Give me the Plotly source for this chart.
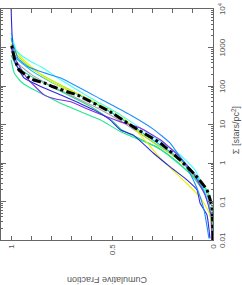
import math
import plotly.graph_objects as go

# ---- data: cumulative fraction (f) vs surface density Sigma [stars/pc^2] ----
f_total = [0.0, 0.005, 0.030, 0.079, 0.163, 0.261, 0.394, 0.507, 0.670, 0.719, 0.788, 0.837, 0.887, 0.916, 0.941, 0.961, 0.975, 0.985, 0.992, 1.0]
s_total = [0.01, 0.072, 0.2, 0.43, 1.2, 3.3, 8.6, 21, 58, 70, 94, 120, 143, 171, 218, 261, 395, 566, 861, 1310]

f_dodger = [0.02, 0.044, 0.079, 0.123, 0.163, 0.212, 0.296, 0.409, 0.557, 0.754, 0.803, 0.916, 0.967, 0.975, 0.99, 1.0]
s_dodger = [0.011, 0.06, 0.22, 0.66, 1.43, 3.3, 7.6, 17.7, 46, 161, 193, 316, 525, 719, 1160, 1780]

f_spring = [0.0, 0.005, 0.03, 0.079, 0.163, 0.276, 0.36, 0.458, 0.557, 0.655, 0.754, 0.803, 0.852, 0.901, 0.951, 0.984, 1.0]
s_spring = [0.01, 0.081, 0.2, 0.36, 0.89, 2.6, 3.95, 6.5, 13.1, 21.4, 35.5, 47.9, 64.6, 87.1, 129, 214, 479]

f_purple = [0.005, 0.01, 0.04, 0.099, 0.163, 0.261, 0.36, 0.458, 0.631, 0.704, 0.778, 0.837, 0.92, 0.985, 1.0]
s_purple = [0.01, 0.045, 0.15, 0.55, 1.43, 4.0, 8.1, 11.7, 26.3, 38.9, 45.7, 58.9, 158, 562, 1000]

f_blue = [0.015, 0.03, 0.064, 0.079, 0.128, 0.212, 0.296, 0.394, 0.458, 0.51, 0.59, 0.66, 0.75, 0.85, 0.936, 0.985, 0.995, 1.0]
s_blue = [0.011, 0.045, 0.091, 0.2, 0.36, 0.79, 1.82, 5.3, 7.2, 13.2, 24, 35.5, 57.5, 95.5, 162, 479, 2000, 10000]

f_yellow = [0.005, 0.015, 0.064, 0.163, 0.26, 0.33, 0.40, 0.458, 0.557, 0.655, 0.754, 0.837, 0.936, 0.98, 1.0]
s_yellow = [0.01, 0.045, 0.13, 0.43, 1.32, 3.55, 8.9, 17.8, 32, 58.3, 95.5, 170, 473, 891, 1585]

f_cyan = [0.005, 0.01, 0.04, 0.089, 0.163, 0.31, 0.458, 0.606, 0.754, 0.852, 0.901, 0.951, 0.975, 1.0]
s_cyan = [0.01, 0.045, 0.2, 0.66, 1.62, 5.4, 17.8, 49, 145, 316, 427, 638, 861, 2400]

f_sky = [0.005, 0.01, 0.03, 0.07, 0.13, 0.2, 0.3, 0.4, 0.5, 0.6, 0.7, 0.8, 0.9, 0.97, 1.0]
s_sky = [0.01, 0.032, 0.126, 0.35, 0.89, 1.78, 4.0, 9.5, 20, 39.8, 70.8, 126, 251, 501, 1000]

f_gray = [0.0, 0.01, 0.03, 0.07, 0.13, 0.2, 0.3, 0.4, 0.5, 0.6, 0.7, 0.8, 0.9, 0.97, 1.0]
s_gray = [0.01, 0.05, 0.16, 0.4, 0.89, 1.66, 3.55, 7.9, 16.6, 31.6, 56, 100, 200, 398, 794]

f_chart = [0.005, 0.01, 0.03, 0.07, 0.13, 0.2, 0.3, 0.4, 0.5, 0.6, 0.7, 0.8, 0.9, 0.97, 1.0]
s_chart = [0.01, 0.04, 0.126, 0.32, 0.79, 1.58, 3.55, 8.9, 20, 39.8, 75.9, 141, 282, 631, 1259]

f_green = [0.0, 0.01, 0.04, 0.1, 0.18, 0.26, 0.36, 0.45, 0.5, 0.6, 0.7, 0.8, 0.9, 0.97, 1.0]
s_green = [0.01, 0.05, 0.16, 0.45, 1.12, 2.24, 4.2, 7.1, 12.6, 28.2, 52.5, 95.5, 178, 316, 631]

series = [
    ("#a8a8a8", f_gray, s_gray),
    ("#30d088", f_green, s_green),
    ("#a8f000", f_chart, s_chart),
    ("#20e890", f_spring, s_spring),
    ("#00c0ff", f_sky, s_sky),
    ("#f0f000", f_yellow, s_yellow),
    ("#40ffff", f_cyan, s_cyan),
    ("#8a2be2", f_purple, s_purple),
    ("#2828e0", f_blue, s_blue),
    ("#1e8cff", f_dodger, s_dodger),
]

x_ticks = [0, 0.5, 1]
x_ticktext = ["0", "0.5", "1"]
y_ticks = [0.01, 0.1, 1, 10, 100, 1000, 10000]
y_ticktext = ["0.01", "0.1", "1", "10", "100", "1000", "10<sup>4</sup>"]

minor_y = []
for d in [0.01, 0.1, 1, 10, 100, 1000]:
    for k in range(2, 10):
        minor_y.append(d * k)

fig = go.Figure()
for color, fx, sy in series:
    fig.add_trace(go.Scatter(x=fx, y=sy, mode="lines",
                             line=dict(color=color, width=1.1, shape="spline", smoothing=0.4),
                             showlegend=False, hoverinfo="skip"))
fig.add_trace(go.Scatter(x=f_total, y=s_total, mode="lines",
                         line=dict(color="black", width=3, dash="dashdot", shape="spline", smoothing=0.4),
                         showlegend=False, hoverinfo="skip"))

axcol = "#666666"
txtcol = "#555555"
annots = []
for v, t in zip(y_ticks, y_ticktext):
    annots.append(dict(text=t, xref="paper", yref="y", x=1.043, y=math.log10(v),
                       xanchor="center", yanchor="middle", textangle=-90, showarrow=False,
                       font=dict(size=8, color=txtcol)))
annots += [
    dict(text="Σ [stars/pc<sup>2</sup>]", xref="paper", yref="paper", x=1.108, y=0.475,
         xanchor="center", yanchor="middle", textangle=-90, showarrow=False,
         font=dict(size=9, color=txtcol)),
    dict(text="Cumulative Fraction", xref="paper", yref="paper", x=0.5, y=-0.173,
         xanchor="center", yanchor="middle", textangle=180, showarrow=False,
         font=dict(size=9, color=txtcol)),
]

fig.update_layout(
    width=242, height=285,
    margin=dict(l=1, r=29, t=9, b=45),
    paper_bgcolor="white", plot_bgcolor="white",
    font=dict(family="Liberation Sans", size=8, color=txtcol),
    hovermode=False,
    xaxis=dict(range=[1.05, 0], tickvals=x_ticks, ticktext=x_ticktext, tickangle=-90,
               ticks="inside", ticklen=4, tickcolor=axcol, showgrid=False, zeroline=False,
               showline=True, linecolor=axcol, linewidth=1, mirror="ticks",
               minor=dict(dtick=0.1, tick0=0, ticks="inside", ticklen=4, tickcolor=axcol, showgrid=False),
               tickfont=dict(size=8, color=txtcol)),
    yaxis=dict(type="log", range=[-2, 4], side="right", tickvals=y_ticks, showticklabels=False,
               ticks="inside", ticklen=5, tickcolor=axcol, showgrid=False,
               zeroline=False, showline=True, linecolor=axcol, linewidth=1, mirror="ticks",
               minor=dict(tickvals=minor_y, ticks="inside", ticklen=2, tickcolor=axcol, showgrid=False)),
    annotations=annots,
)

fig.write_html("out.html", config={"displayModeBar": False, "staticPlot": True},
               post_script="document.body.style.margin='0';document.body.style.overflow='hidden';")
